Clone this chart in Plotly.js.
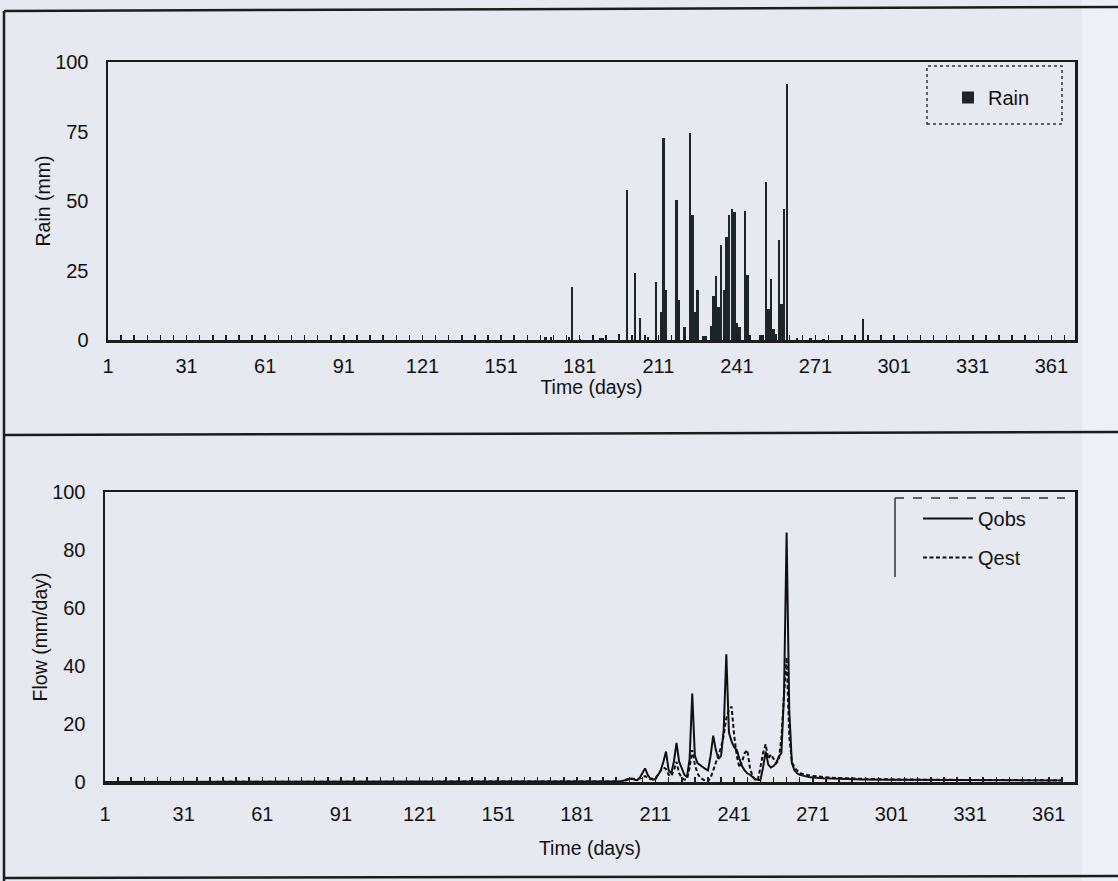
<!DOCTYPE html>
<html><head><meta charset="utf-8">
<script src="https://cdn.plot.ly/plotly-3.0.1.min.js"></script>
<style>html,body{margin:0;padding:0;background:#e7e9f1}#chart{width:1118px;height:881px}</style>
</head><body><div id="chart"></div>
<script>
// ---- data ----
const tickDays = [1, 31, 61, 91, 121, 151, 181, 211, 241, 271, 301, 331, 361];
const rainTicks = [0, 25, 50, 75, 100];
const flowTicks = [0, 20, 40, 60, 80, 100];

const rainDays = [168, 170, 177, 178, 181, 189, 190, 196, 199, 202, 204, 206, 207, 210, 212, 213, 214, 218, 219, 221, 223, 224, 225, 226, 228, 229, 231, 232, 233, 234, 235, 236, 237, 238, 239, 240, 241, 242, 244, 245, 250, 252, 253, 254, 255, 256, 257, 258, 259, 260, 264, 269, 274, 289];
const rainMm = [1, 1, 1, 19, 0.5, 0.7, 0.8, 2.2, 54, 24, 8, 1.2, 1.2, 21, 10, 72.5, 18, 50.5, 14.5, 4.8, 74.5, 45, 10, 18, 1.5, 1.5, 5, 16, 23, 12, 34, 18, 37, 45, 47, 46, 6, 4.5, 46.5, 23.5, 1.8, 57, 11, 22, 4, 2, 36, 13, 47, 92, 0.8, 0.6, 0.5, 7.5];

const flowDays = [1,
  195, 196, 197, 198, 199, 200, 201, 202, 203, 204,
  205, 206, 207, 208, 209, 210, 211, 212, 213, 214,
  215, 216, 217, 218, 219, 220, 221, 222, 223, 224,
  225, 226, 227, 228, 229, 230, 231, 232, 233, 234,
  235, 236, 237, 238, 239, 240, 241, 242, 243, 244,
  245, 246, 247, 248, 249, 250, 251, 252, 253, 254,
  255, 256, 257, 258, 259, 260, 261, 262, 263, 264,
  265, 266, 268, 270, 275, 280, 290, 300, 330, 366];
const qobs = [0,
  0, 0, 0.2, 0.3, 0.5, 1, 1.2, 1.2, 0.8, 0.6,
  1.5, 3, 4.7, 2.5, 1.2, 0.8, 1, 2.5, 4, 7,
  10.5, 4, 3, 7, 13.5, 7, 4.5, 2.5, 1.7, 8,
  30.5, 9, 6.5, 5.8, 5, 4.5, 4, 9, 16, 11,
  8, 9, 18, 44, 17, 14, 12, 11, 8, 5.5,
  4, 3, 2.5, 1.8, 1, 0.8, 0.6, 5, 10.5, 6,
  5, 5.5, 6.5, 8.7, 10, 30, 86, 25, 6.5, 4,
  3, 2.5, 2, 1.6, 1.3, 1.1, 0.9, 0.8, 0.6, 0.5];
const qest = [0,
  0, 0, 0.1, 0.2, 0.3, 0.6, 1, 1, 1, 1,
  1.2, 1.6, 2, 1.5, 1, 1.2, 1.5, 2.5, 4, 5,
  4.5, 2.5, 2, 4, 7, 3, 1.5, 0.8, 1, 5,
  11, 6, 3, 1.5, 0.8, 0.4, 0.2, 1.5, 4, 6.5,
  9, 12, 16, 22, 25, 26, 16, 9, 5, 7,
  10, 11, 5, 2, 0.8, 0.6, 5, 10, 13, 8,
  9.5, 8, 6.5, 7.5, 15, 30, 43, 16, 7, 5,
  4, 3, 2.6, 2.2, 1.7, 1.4, 1.1, 0.9, 0.7, 0.6];

// ---- chart ----
const W = 1118, H = 881;
const px = v => v / W, py = v => 1 - v / H;
const ink = '#1c1c1c';
const bg = '#e7e9f1';

const traces = [
  {type: 'bar', x: rainDays, y: rainMm, name: 'Rain', width: 0.9,
   marker: {color: '#1e2528', line: {width: 0}}, xaxis: 'x', yaxis: 'y', legend: 'legend'},
  {type: 'scatter', mode: 'lines', x: flowDays, y: qobs, name: 'Qobs',
   line: {color: '#111', width: 2}, xaxis: 'x2', yaxis: 'y2', legend: 'legend2', legendgroup: 'a'},
  {type: 'scatter', mode: 'lines', x: flowDays, y: qest, name: 'Qest',
   line: {color: '#111', width: 2, dash: '4px,2.5px'}, xaxis: 'x2', yaxis: 'y2', legend: 'legend2', legendgroup: 'b'}
];

const fam = 'Liberation Sans, Arial, Helvetica, sans-serif';
function xAxis(dom, anchor, range, lblOff, ttlOff) {
  return {domain: dom, anchor: anchor, range: range, tickmode: 'array', tickvals: tickDays,
    ticks: 'inside', ticklen: 5, tickwidth: 1.5, tickcolor: ink,
    minor: {tick0: 1, dtick: 5, ticks: 'inside', ticklen: 5, tickwidth: 1.5, tickcolor: ink},
    showgrid: false, zeroline: false, showline: true, mirror: true, linecolor: ink, linewidth: 2.5,
    ticklabelstandoff: lblOff, tickfont: {size: 20},
    title: {text: 'Time (days)', font: {size: 19.5}, standoff: ttlOff}};
}
function yAxis(dom, anchor, ticks, title) {
  return {domain: dom, anchor: anchor, range: [0, 100], tickmode: 'array', tickvals: ticks,
    ticks: '', showgrid: false, zeroline: false, showline: true, mirror: true, linecolor: ink, linewidth: 2.5,
    ticklabelstandoff: 13, tickfont: {size: 20},
    title: {text: title, font: {size: 19.5}, standoff: 0}};
}

const layout = {
  width: W, height: H, margin: {l: 0, r: 0, t: 0, b: 0, autoexpand: false},
  paper_bgcolor: bg, plot_bgcolor: bg,
  font: {family: fam, color: '#111', size: 20},
  bargap: 0,
  xaxis: xAxis([px(108), px(1075)], 'y', [1, 370], 6, 0),
  yaxis: yAxis([py(340), py(62)], 'x', rainTicks, 'Rain (mm)'),
  xaxis2: xAxis([px(105), px(1075)], 'y2', [1, 371], 12, 18),
  yaxis2: yAxis([py(782), py(492)], 'x2', flowTicks, 'Flow (mm/day)'),
  showlegend: true,
  legend: {x: px(948), y: py(78), xanchor: 'left', yanchor: 'top', bgcolor: 'rgba(0,0,0,0)',
    borderwidth: 0, font: {size: 20}},
  legend2: {x: px(918), y: py(499), xanchor: 'left', yanchor: 'top', bgcolor: 'rgba(0,0,0,0)',
    borderwidth: 0, font: {size: 20}, traceorder: 'grouped', tracegroupgap: 10, itemwidth: 50},
  shapes: [
    {type: 'rect', xref: 'paper', yref: 'paper', x0: px(1082), x1: 1, y0: 0, y1: 1, fillcolor: '#eef0f5', line: {width: 0}, layer: 'below'},
    {type: 'line', xref: 'paper', yref: 'paper', x0: px(4), x1: 1, y0: py(11), y1: py(7), line: {color: ink, width: 2.5}},
    {type: 'line', xref: 'paper', yref: 'paper', x0: px(4), x1: px(4), y0: 0, y1: py(11), line: {color: ink, width: 2.5}},
    {type: 'line', xref: 'paper', yref: 'paper', x0: px(4), x1: 1, y0: py(435), y1: py(432), line: {color: ink, width: 2.5}},
    {type: 'line', xref: 'paper', yref: 'paper', x0: px(4), x1: 1, y0: py(878), y1: py(876), line: {color: ink, width: 2.5}},
    {type: 'rect', xref: 'paper', yref: 'paper', x0: px(927), x1: px(1062), y0: py(124), y1: py(66), line: {color: '#333', width: 1.5, dash: 'dot'}},
    {type: 'line', xref: 'paper', yref: 'paper', x0: px(895), x1: px(1065), y0: py(498), y1: py(498), line: {color: '#333', width: 1.5, dash: 'dash'}},
    {type: 'line', xref: 'paper', yref: 'paper', x0: px(895), x1: px(895), y0: py(498), y1: py(577), line: {color: '#333', width: 1.5}}
  ]
};

Plotly.newPlot('chart', traces, layout, {displayModeBar: false, staticPlot: true});
</script>
</body></html>
